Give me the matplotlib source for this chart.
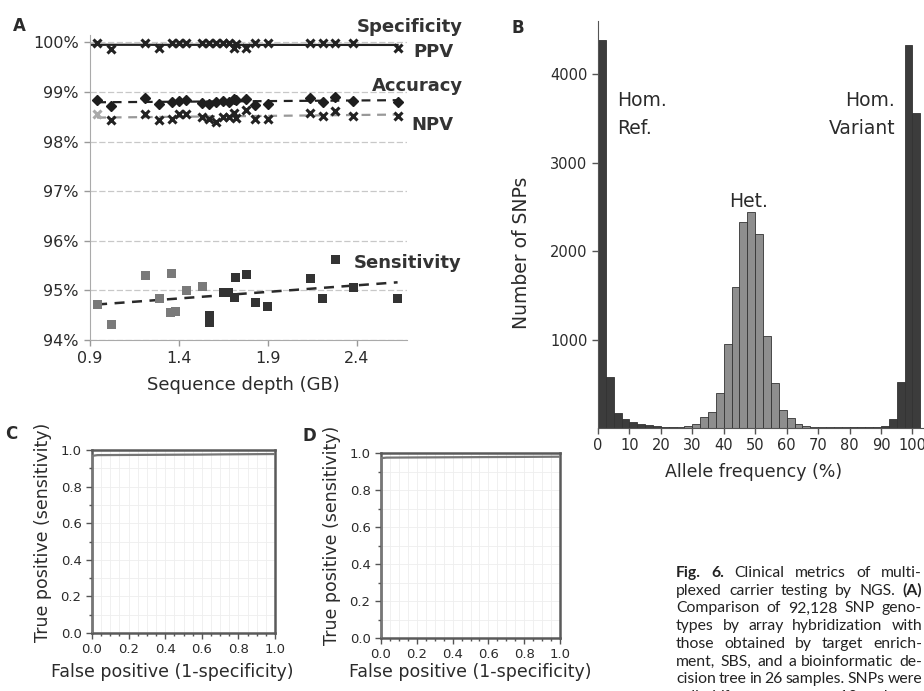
import numpy as np
import matplotlib
matplotlib.use("Agg")
import matplotlib.pyplot as plt
from matplotlib.ticker import MultipleLocator

# ---------- panel A: clinical metrics vs sequence depth ----------
depth_gb = [0.94, 1.02, 1.21, 1.29, 1.36, 1.40, 1.44, 1.53, 1.57, 1.61, 1.65,
            1.68, 1.71, 1.72, 1.78, 1.83, 1.90, 2.14, 2.21, 2.28, 2.38, 2.63]
specificity = [99.96, 99.94, 99.96, 99.94, 99.96, 99.95, 99.96, 99.95, 99.95, 99.96, 99.95,
               99.95, 99.94, 99.95, 99.94, 99.96, 99.95, 99.96, 99.95, 99.96, 99.95, 99.94]
ppv = [99.98, 99.87, 99.98, 99.88, 99.98, 99.98, 99.98, 99.98, 99.98, 99.98, 99.98,
       99.98, 99.88, 99.97, 99.88, 99.98, 99.98, 99.98, 99.98, 99.98, 99.98, 99.88]
accuracy = [98.83, 98.72, 98.88, 98.76, 98.80, 98.82, 98.84, 98.78, 98.76, 98.80, 98.82,
            98.80, 98.86, 98.84, 98.86, 98.74, 98.76, 98.88, 98.80, 98.90, 98.82, 98.80]
npv = [98.56, 98.43, 98.56, 98.44, 98.46, 98.55, 98.55, 98.50, 98.45, 98.40, 98.50,
       98.50, 98.58, 98.48, 98.64, 98.45, 98.45, 98.58, 98.52, 98.62, 98.52, 98.52]

sens_depth = [0.94, 1.02, 1.21, 1.29, 1.35, 1.36, 1.38, 1.44, 1.53, 1.57, 1.57, 1.65,
              1.68, 1.71, 1.72, 1.78, 1.83, 1.90, 2.14, 2.21, 2.28, 2.38, 2.63]
sensitivity = [94.71, 94.31, 95.31, 94.83, 94.56, 95.35, 94.58, 94.99, 95.08, 94.49, 94.36, 94.95,
               94.95, 94.86, 95.26, 95.33, 94.75, 94.67, 95.25, 94.84, 95.62, 95.06, 94.84]

pct_ticks = [94, 95, 96, 97, 98, 99, 100]
depth_ticks = [0.9, 1.4, 1.9, 2.4]

# ---------- panel B: allele frequency histogram ----------
bin_left = np.arange(0, 102.5, 2.5)
snp_counts = [4380, 580, 170, 100, 70, 50, 30, 20, 15, 12, 15, 25, 50, 120, 180, 400,
              950, 1590, 2330, 2440, 2190, 1040, 510, 200, 110, 40, 20, 15, 10, 10,
              8, 8, 8, 8, 10, 12, 20, 100, 520, 4330, 3560]

# ---------- panels C, D: ROC curves ----------
roc_c_fpr = [0.0, 0.0, 0.03, 0.2, 0.4, 0.6, 0.7, 0.85, 1.0]
roc_c_tpr = [0.0, 0.968, 0.972, 0.973, 0.974, 0.975, 0.976, 0.977, 0.978]
roc_d_fpr = [0.0, 0.0, 0.03, 0.2, 0.4, 0.6, 0.8, 1.0]
roc_d_tpr = [0.0, 0.972, 0.975, 0.976, 0.977, 0.978, 0.979, 0.980]

caption = [
    "Fig. 6. Clinical metrics of multi-",
    "plexed carrier testing by NGS. (A)",
    "Comparison of 92,128 SNP geno-",
    "types by array hybridization with",
    "those obtained by target enrich-",
    "ment, SBS, and a bioinformatic de-",
    "cision tree in 26 samples. SNPs were",
    "called if coverage was \u226510 and",
]
bold_words = {"Fig.", "6.", "(A)"}

ink = "#2b2b2b"
plt.rcParams["font.family"] = ["DejaVu Sans"]
plt.rcParams["text.color"] = ink
plt.rcParams["axes.labelcolor"] = ink
plt.rcParams["xtick.color"] = ink
plt.rcParams["ytick.color"] = ink

fig = plt.figure(figsize=(9.24, 6.91), dpi=100)
W, H = 924.0, 691.0


def rect(x0, y0, x1, y1):
    # pixel box (top-left origin) -> figure fraction
    return [x0 / W, 1 - y1 / H, (x1 - x0) / W, (y1 - y0) / H]


# ---------------- A ----------------
axA = fig.add_axes(rect(90, 35, 407, 340))
axA.set_xlim(0.9, 2.683)
axA.set_ylim(94, 100.15)
for v in pct_ticks:
    axA.axhline(v, color="#c8c8c8", lw=0.9, ls=(0, (5, 2)), zorder=0)

x = np.array(depth_gb)
xs = np.array(sens_depth)
fit_line = np.array([0.94, 2.63])

k = np.polyfit(x, specificity, 1)
axA.plot([0.9, 2.63], np.polyval(k, [0.9, 2.63]), color="#222", lw=1.6, zorder=2)
axA.plot(x, ppv, ls="none", marker="x", ms=6, mew=2.2, color="#222", zorder=3)

k = np.polyfit(x, accuracy, 1)
axA.plot(fit_line, np.polyval(k, fit_line), color="#222", lw=1.6, ls=(0, (4, 3)), zorder=2)
axA.plot(x, accuracy, ls="none", marker="D", ms=5.5, color="#1e1e1e", zorder=3)

k = np.polyfit(x, npv, 1)
axA.plot(fit_line, np.polyval(k, fit_line), color="#999", lw=1.6, ls=(0, (4, 3)), zorder=2)
npv_col = ["#aaaaaa" if d < 1.0 else "#222" for d in depth_gb]
for xi, yi, c in zip(x, npv, npv_col):
    axA.plot(xi, yi, ls="none", marker="x", ms=6, mew=2.2, color=c, zorder=3)

k = np.polyfit(xs, sensitivity, 1)
axA.plot(fit_line, np.polyval(k, fit_line), color="#2a2a2a", lw=1.8, ls=(0, (4, 3)), zorder=2)
sens_col = ["#7a7a7a" if d < 1.56 else "#333333" for d in sens_depth]
axA.scatter(xs, sensitivity, marker="s", s=42, c=sens_col, zorder=3, linewidths=0)

axA.set_yticks(pct_ticks)
axA.set_yticklabels([f"{v}%" for v in pct_ticks])
axA.set_xticks(depth_ticks)
axA.set_xticklabels([f"{v:.1f}" for v in depth_ticks])
axA.tick_params(labelsize=11.5, length=4, width=1, color="#999", pad=4)
for s in ["top", "right"]:
    axA.spines[s].set_visible(False)
axA.spines["left"].set_color("#aaaaaa")
axA.spines["bottom"].set_color("#aaaaaa")
axA.set_xlabel("Sequence depth (GB)", fontsize=13)
axA.xaxis.set_label_coords(0.484, -0.118)

lab = dict(ha="right", va="center", fontsize=13, fontweight="bold", clip_on=False, color="#333")
axA.text(2.998, 100.32, "Specificity", **lab)
axA.text(2.942, 99.81, "PPV", **lab)
axA.text(2.998, 99.13, "Accuracy", **lab)
axA.text(2.942, 98.34, "NPV", **lab)
axA.text(2.992, 95.56, "Sensitivity", **lab)

# ---------------- B ----------------
axB = fig.add_axes(rect(598, 21, 925, 428))
centers = bin_left + 1.25
bar_col = ["#3c3c3c" if (c < 25 or c > 80) else "#8e8e8e" for c in centers]
axB.bar(bin_left, snp_counts, width=2.5, align="edge", color=bar_col,
        edgecolor="#333", linewidth=0.6)
axB.set_xlim(0, 104)
axB.set_ylim(0, 4600)
axB.set_yticks([1000, 2000, 3000, 4000])
axB.set_xticks(range(0, 101, 10))
axB.tick_params(labelsize=10.5, length=4, width=1, color="#555")
for s in ["top", "right"]:
    axB.spines[s].set_visible(False)
axB.spines["left"].set_color("#555")
axB.spines["bottom"].set_color("#555")
axB.set_ylabel("Number of SNPs", fontsize=13.5)
axB.yaxis.set_label_coords(-0.205, 0.43)
axB.set_xlabel("Allele frequency (%)", fontsize=12.5)
axB.xaxis.set_label_coords(0.475, -0.085)
axB.text(6.0, 3540, "Hom.\nRef.", ha="left", va="center", fontsize=13.5, linespacing=1.6)
axB.text(94.5, 3540, "Hom.\nVariant", ha="right", va="center", fontsize=13.5,
         linespacing=1.6, multialignment="right")
axB.text(48.0, 2560, "Het.", ha="center", va="center", fontsize=13.5)

# ---------------- C, D ----------------
def roc_panel(box, fpr, tpr, ylab_xy, xlab_xy):
    ax = fig.add_axes(rect(*box))
    ax.plot(fpr, tpr, color="#777", lw=1.6, zorder=3)
    ax.set_xlim(0, 1)
    ax.set_ylim(0, 1)
    ax.set_xticks(np.arange(0, 1.01, 0.2))
    ax.set_yticks(np.arange(0, 1.01, 0.2))
    ax.set_xticklabels([f"{v:.1f}" for v in np.arange(0, 1.01, 0.2)])
    ax.set_yticklabels([f"{v:.1f}" for v in np.arange(0, 1.01, 0.2)])
    ax.xaxis.set_minor_locator(MultipleLocator(0.05))
    ax.yaxis.set_minor_locator(MultipleLocator(0.1))
    ax.grid(True, which="both", color="#eeeeee", lw=0.6, zorder=0)
    ax.tick_params(which="both", labelsize=9.5, color="#555", width=1)
    ax.tick_params(which="major", length=4)
    ax.tick_params(which="minor", length=2.5)
    for s in ax.spines.values():
        s.set_color("#5a5a5a")
        s.set_linewidth(1.8)
    ax.set_ylabel("True positive (sensitivity)", fontsize=12.5)
    ax.yaxis.set_label_coords(*ylab_xy)
    ax.set_xlabel("False positive (1-specificity)", fontsize=12.5)
    ax.xaxis.set_label_coords(*xlab_xy)
    return ax


roc_panel((92, 450, 275, 633), roc_c_fpr, roc_c_tpr, (-0.22, 0.55), (0.437, -0.165))
roc_panel((381, 453, 560, 638), roc_d_fpr, roc_d_tpr, (-0.223, 0.557), (0.497, -0.135))

# panel letters
for letter, px, py in [("A", 19, 26), ("B", 518, 28), ("C", 11, 434), ("D", 309, 436)]:
    fig.text(px / W, 1 - py / H, letter, fontsize=12, fontweight="bold",
             ha="center", va="center")

# ---------------- caption (justified) ----------------
fig.canvas.draw()
renderer = fig.canvas.get_renderer()
x_left, x_right = 676.0, 922.0
cap_family = ["Lato", "DejaVu Sans"]
space_px = 3.0


def word_widths(words, size):
    out = []
    for w in words:
        t = fig.text(0, 0, w, fontsize=size, family=cap_family,
                     fontweight="bold" if w in bold_words else "normal")
        out.append(t.get_window_extent(renderer).width)
        t.remove()
    return out


# pick one font size so every line fits the column with at least a small gap
base = 12.5
scale = 1.0
for line in caption[:-1]:
    words = line.split()
    need = sum(word_widths(words, base)) + space_px * (len(words) - 1)
    scale = min(scale, (x_right - x_left) / need)
cap_size = base * scale

for i, line in enumerate(caption):
    words = line.split()
    widths = word_widths(words, cap_size)
    y = 1 - (573 + i * 17.7) / H
    if i < len(caption) - 1 and len(words) > 1:
        gap = (x_right - x_left - sum(widths)) / (len(words) - 1)
    else:
        gap = space_px * 1.3
    xpos = x_left
    for w, wd in zip(words, widths):
        fig.text(xpos / W, y, w, fontsize=cap_size, family=cap_family,
                 fontweight="bold" if w in bold_words else "normal",
                 ha="left", va="center", color="#222")
        xpos += wd + gap

fig.savefig("out.png", dpi=100)
